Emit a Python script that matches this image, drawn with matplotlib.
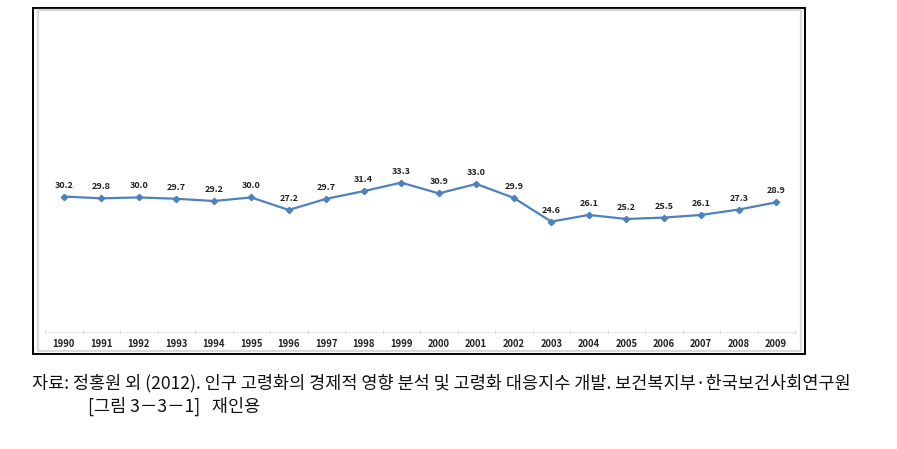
import matplotlib
matplotlib.use("Agg")
import matplotlib.pyplot as plt
from matplotlib.patches import Rectangle

plt.rcParams['font.family'] = ['Noto Sans CJK KR', 'DejaVu Sans']

years = ['1990', '1991', '1992', '1993', '1994', '1995', '1996', '1997', '1998', '1999',
         '2000', '2001', '2002', '2003', '2004', '2005', '2006', '2007', '2008', '2009']
values = [30.2, 29.8, 30.0, 29.7, 29.2, 30.0, 27.2, 29.7, 31.4, 33.3,
          30.9, 33.0, 29.9, 24.6, 26.1, 25.2, 25.5, 26.1, 27.3, 28.9]
caption1 = '자료: 정홍원 외 (2012). 인구 고령화의 경제적 영향 분석 및 고령화 대응지수 개발. 보건복지부·한국보건사회연구원'
caption2 = '[그림 3－3－1]   재인용'

W, H = 897, 449
fig = plt.figure(figsize=(W / 100, H / 100), dpi=100)

# outer frame + light inner frame (pixel coords -> figure fraction)
def fx(px):
    return px / W

def fy(py):
    return 1 - py / H

fig.patches.append(Rectangle((fx(33), fy(354)), fx(805) - fx(33), fy(8) - fy(354),
                             transform=fig.transFigure, fill=False, lw=1.4, ec='black'))
fig.patches.append(Rectangle((fx(38), fy(351)), fx(801) - fx(38), fy(10) - fy(351),
                             transform=fig.transFigure, fill=False, lw=1.6, ec='#d9d9d9'))

ax = fig.add_axes([fx(45), fy(332), fx(795) - fx(45), fy(18) - fy(332)])
x = list(range(len(years)))
ax.plot(x, values, color='#4f81bd', lw=1.6, marker='D', ms=3.2, mec='#4f81bd', mfc='#4f81bd')
for xi, v in zip(x, values):
    ax.annotate(f'{v:.1f}', (xi, v), xytext=(0, 5), textcoords='offset points',
                ha='center', va='bottom', fontsize=6.5, fontweight='bold', color='#222222')

ax.set_xlim(-0.5, len(years) - 0.5)
ax.set_ylim(0, 70)
ax.set_xticks(x)
ax.set_xticklabels(years, fontsize=6.8, fontweight='bold', color='#222222')
ax.set_xticks([i - 0.5 for i in range(len(years) + 1)], minor=True)
ax.tick_params(axis='x', which='major', length=0, pad=5)
ax.tick_params(axis='x', which='minor', length=3, color='#d0d0d0', direction='inout')
ax.set_yticks([])
for s in ['top', 'right', 'left']:
    ax.spines[s].set_visible(False)
ax.spines['bottom'].set_color('#e6e6e6')
ax.spines['bottom'].set_linewidth(0.8)
ax.patch.set_alpha(0)

fig.text(fx(32), fy(383), caption1, fontsize=12.6, va='center', ha='left', color='#111111')
fig.text(fx(88), fy(406), caption2, fontsize=12.6, va='center', ha='left', color='#111111')

fig.savefig('out.png', dpi=100)
